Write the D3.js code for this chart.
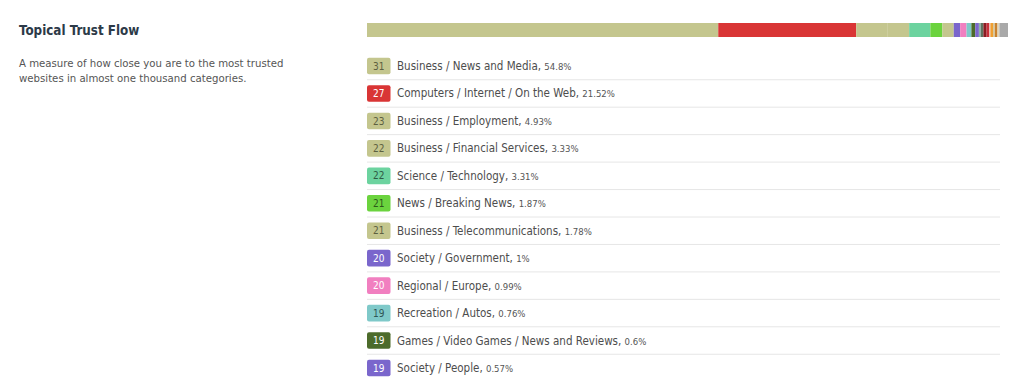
<!DOCTYPE html>
<html>
<head>
<meta charset="utf-8">
<script src="https://cdn.jsdelivr.net/npm/d3@7"></script>
<style>
  html, body { margin: 0; padding: 0; background: #ffffff; }
  svg { display: block; }
</style>
</head>
<body>
<svg id="chart" width="1024" height="391"></svg>
<script>
// ---- data ----
const categories = [
  "Business / News and Media",
  "Computers / Internet / On the Web",
  "Business / Employment",
  "Business / Financial Services",
  "Science / Technology",
  "News / Breaking News",
  "Business / Telecommunications",
  "Society / Government",
  "Regional / Europe",
  "Recreation / Autos",
  "Games / Video Games / News and Reviews",
  "Society / People"
];
const trustFlow = [31, 27, 23, 22, 22, 21, 21, 20, 20, 19, 19, 19];
const percentLabels = ["54.8%", "21.52%", "4.93%", "3.33%", "3.31%", "1.87%", "1.78%", "1%", "0.99%", "0.76%", "0.6%", "0.57%"];
const shares = [54.8, 21.52, 4.93, 3.33, 3.31, 1.87, 1.78, 1, 0.99, 0.76, 0.6, 0.57];
const colors = ["#c4c68e", "#d93535", "#c4c68e", "#c4c68e", "#6cd39f", "#6bd33e", "#c4c68e", "#7a66cc", "#f17fc0", "#7fc9c9", "#4c6b2b", "#7a66cc"];
const badgeTextColors = ["#5d6040", "#ffffff", "#5d6040", "#5d6040", "#2f5a44", "#2d5a1a", "#5d6040", "#ffffff", "#ffffff", "#2f5656", "#ffffff", "#ffffff"];
// remaining small categories shown only in the stacked bar (estimated)
const otherShares = [0.3, 0.4, 0.5, 0.4, 0.2, 0.4, 0.3, 0.4, 0.3, 1.34];
const otherColors = ["#8fb3a8", "#5f7360", "#8b1c22", "#c8303a", "#e8b8b0", "#f0a030", "#d8c79e", "#c9822e", "#e0d6bc", "#a9a9a9"];

const title = "Topical Trust Flow";
const descLines = ["A measure of how close you are to the most trusted", "websites in almost one thousand categories."];

// ---- drawing ----
const svg = d3.select("#chart");
const FONT = "Tahoma, 'DejaVu Sans Condensed', 'Liberation Sans', sans-serif";

svg.append("text")
  .attr("x", 19).attr("y", 35)
  .attr("font-family", FONT).attr("font-size", 13.3).attr("font-weight", "bold")
  .attr("fill", "#2c3a48").text(title);

svg.selectAll("text.desc").data(descLines).enter().append("text")
  .attr("class", "desc")
  .attr("x", 19).attr("y", (d, i) => 67 + i * 14.5)
  .attr("font-family", FONT).attr("font-size", 11.3)
  .attr("fill", "#555").text(d => d);

// stacked bar
const segs = [];
let acc = 0;
shares.forEach((v, i) => { segs.push({ x0: acc, x1: acc + v, c: colors[i] }); acc += v; });
otherShares.forEach((v, i) => { segs.push({ x0: acc, x1: acc + v, c: otherColors[i] }); acc += v; });

const xBar = d3.scaleLinear().domain([0, acc]).range([367, 1008]);
svg.append("g").selectAll("rect").data(segs).enter().append("rect")
  .attr("x", d => xBar(d.x0))
  .attr("width", d => Math.max(0, xBar(d.x1) - xBar(d.x0)))
  .attr("y", 23).attr("height", 14)
  .attr("fill", d => d.c);

// list rows
const y = d3.scaleBand().domain(d3.range(categories.length)).range([52.3, 381.7]);
const rowH = y.bandwidth();

const rows = svg.append("g").selectAll("g.row").data(categories).enter().append("g")
  .attr("class", "row")
  .attr("transform", (d, i) => `translate(0,${y(i) + rowH / 2})`);

rows.filter((d, i) => i < categories.length - 1).append("line")
  .attr("x1", 367).attr("x2", 1000)
  .attr("y1", rowH / 2).attr("y2", rowH / 2)
  .attr("stroke", "#e6e6e6").attr("stroke-width", 1);

rows.append("rect")
  .attr("x", 367).attr("y", -8.3).attr("width", 23.5).attr("height", 16.6)
  .attr("rx", 2).attr("fill", (d, i) => colors[i]);

rows.append("text")
  .attr("x", 378.7).attr("y", 3.6)
  .attr("text-anchor", "middle")
  .attr("font-family", FONT).attr("font-size", 10)
  .attr("fill", (d, i) => badgeTextColors[i])
  .text((d, i) => trustFlow[i]);

const lbl = rows.append("text")
  .attr("x", 397).attr("y", 4)
  .attr("font-family", FONT).attr("font-size", 11.5)
  .attr("fill", "#4d4d4d");
lbl.append("tspan").text(d => d + ", ");
lbl.append("tspan").attr("font-size", 9.5).attr("fill", "#555").text((d, i) => percentLabels[i]);
</script>
</body>
</html>
